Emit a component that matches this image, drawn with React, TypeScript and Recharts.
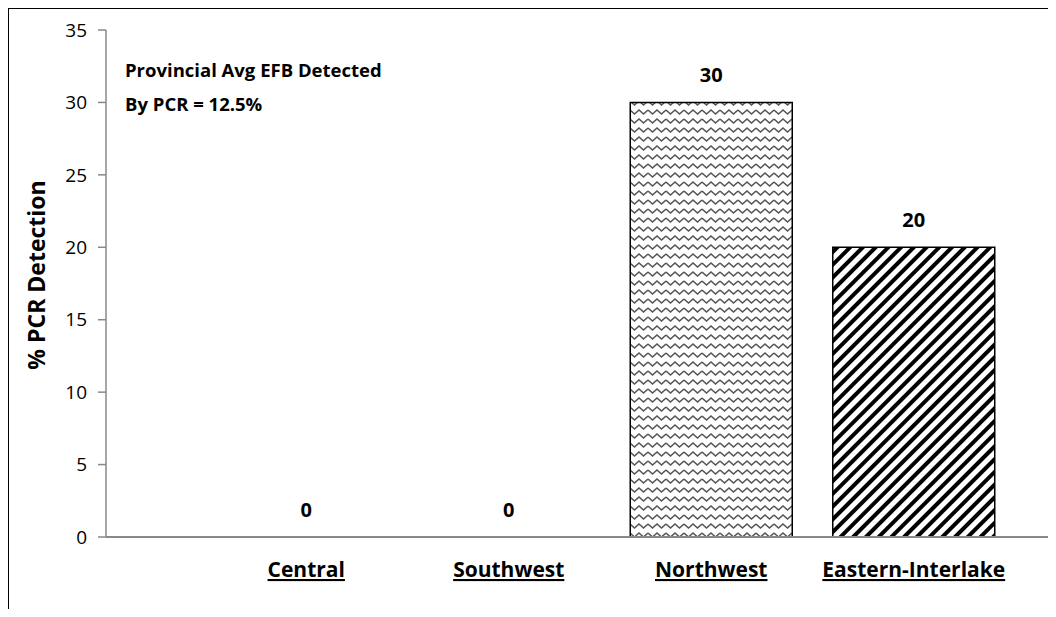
import React from "react";
import { ComposedChart, Bar, Line, XAxis, YAxis, LabelList, Cell, Label } from "recharts";

const categories = ["Central", "Southwest", "Northwest", "Eastern-Interlake"];
const detectionValues = [0, 0, 30, 20];
const yTicks = [0, 5, 10, 15, 20, 25, 30, 35];
const barFills = ["url(#wavePattern)", "url(#wavePattern)", "url(#wavePattern)", "url(#stripePattern)"];
const annotationLines = ["Provincial Avg EFB Detected", "By PCR = 12.5%"];
const yAxisTitle = "% PCR Detection";

const data = categories.map((c, i) => ({ name: c, value: detectionValues[i] }));

const FONT = "'Open Sans', 'Noto Sans', sans-serif";

const XTick = (props: any) => {
  const { x, y, payload } = props;
  return (
    <text
      x={x}
      y={y + 32}
      textAnchor="middle"
      fontFamily={FONT}
      fontWeight={700}
      fontSize={21}
      fill="#000"
      textDecoration="underline"
      style={{ textDecoration: "underline" }}
    >
      {payload.value}
    </text>
  );
};

const YTitle = (props: any) => {
  return (
    <text
      x={36}
      y={275}
      transform="rotate(-90 36 275)"
      textAnchor="middle"
      dominantBaseline="central"
      fontFamily={FONT}
      fontWeight={700}
      fontSize={23}
      fill="#000"
    >
      {yAxisTitle}
    </text>
  );
};

export default function App() {
  return (
    <div style={{ position: "relative", width: 1056, height: 617, margin: -8, overflow: "hidden", background: "#fff" }}>
      <div
        style={{
          position: "absolute",
          left: 7,
          top: 7,
          width: 1200,
          height: 800,
          borderTop: "2px solid #000",
          borderLeft: "2px solid #000",
        }}
      />
      <div style={{ position: "absolute", left: 0, top: 0 }}>
        <ComposedChart
          width={1056}
          height={617}
          data={data}
          margin={{ top: 30, right: 0, left: 10, bottom: 30 }}
          barCategoryGap="10%"
        >
          <defs>
            <pattern id="wavePattern" patternUnits="userSpaceOnUse" width="18" height="9">
              <rect x="0" y="0" width="18" height="9" fill="#fff" />
              <path d="M0,2 L4.5,6 L9,2 L13.5,6 L18,2" fill="none" stroke="#555" strokeWidth="1.6" />
            </pattern>
            <pattern id="stripePattern" patternUnits="userSpaceOnUse" width="9" height="9" patternTransform="rotate(45)">
              <rect x="0" y="0" width="9" height="9" fill="#fff" />
              <rect x="0" y="0" width="4" height="9" fill="#000" />
            </pattern>
          </defs>
          <XAxis
            dataKey="name"
            height={50}
            axisLine={{ stroke: "#888", strokeWidth: 2 }}
            tickLine={false}
            tick={<XTick />}
            padding={{ left: 99, right: 41 }}
            interval={0}
          />
          <YAxis
            width={96}
            domain={[0, 35]}
            ticks={yTicks}
            interval={0}
            axisLine={{ stroke: "#888", strokeWidth: 1.5 }}
            tickLine={{ stroke: "#888", strokeWidth: 1.5 }}
            tickSize={8}
            tickMargin={11}
            tick={{ fontFamily: FONT, fontSize: 19, fill: "#000" }}
          >
            <Label content={<YTitle />} />
          </YAxis>
          <Bar dataKey="value" isAnimationActive={false} stroke="#000" strokeWidth={1.5}>
            {data.map((d, i) => (
              <Cell key={d.name} fill={barFills[i]} />
            ))}
          </Bar>
          <Line
            dataKey="value"
            stroke="none"
            dot={false}
            activeDot={false}
            isAnimationActive={false}
            legendType="none"
          >
            <LabelList
              dataKey="value"
              position="top"
              offset={20}
              style={{ fontFamily: FONT, fontWeight: 700, fontSize: 20, fill: "#000" }}
            />
          </Line>
        </ComposedChart>
      </div>
      <div
        style={{
          position: "absolute",
          left: 125,
          top: 53,
          fontFamily: FONT,
          fontWeight: 700,
          fontSize: 18.5,
          lineHeight: "34px",
          color: "#000",
          whiteSpace: "nowrap",
        }}
      >
        {annotationLines.map((t) => (
          <div key={t}>{t}</div>
        ))}
      </div>
    </div>
  );
}
